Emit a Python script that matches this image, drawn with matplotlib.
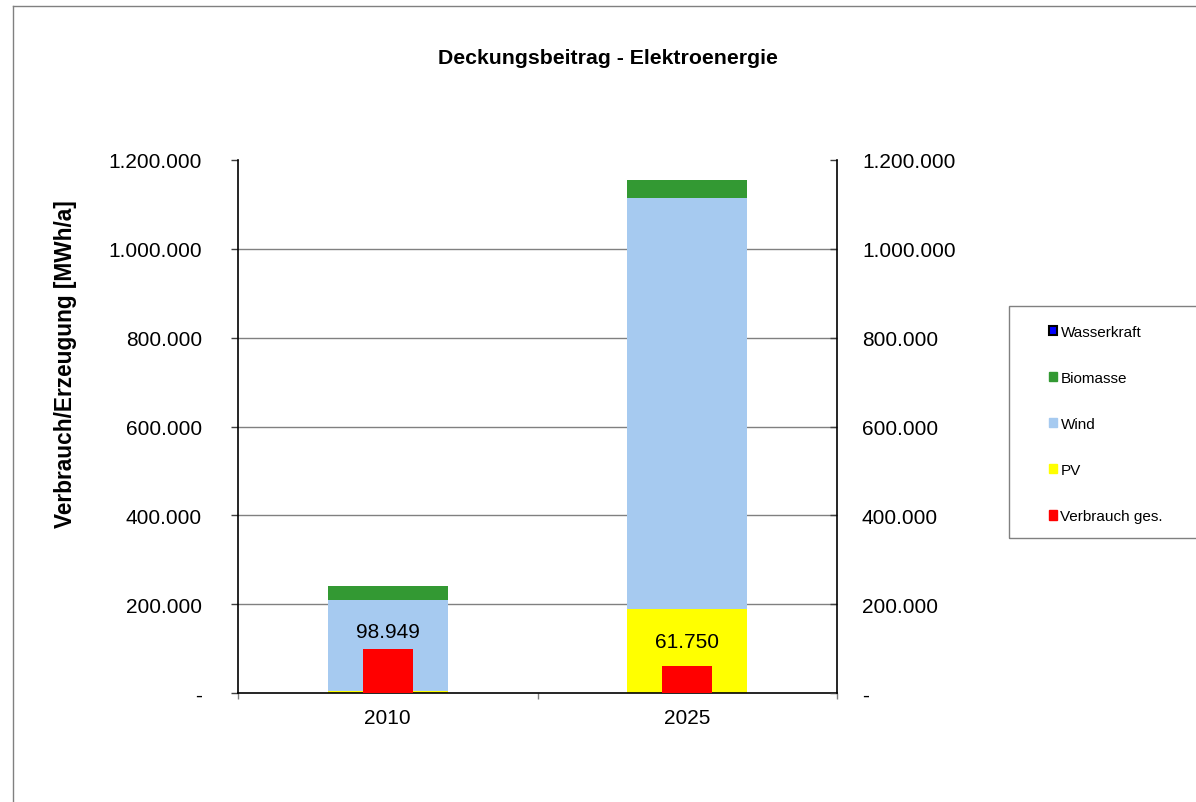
import matplotlib
matplotlib.use("Agg")
import matplotlib.pyplot as plt
from matplotlib.patches import Rectangle, Patch
from matplotlib.lines import Line2D
from matplotlib.ticker import FuncFormatter, FixedLocator

plt.rcParams['font.family'] = ['Liberation Sans', 'DejaVu Sans']

# ---- data ----
categories = ["2010", "2025"]
pv = [5000, 190000]
wind = [204000, 924000]
biomasse = [31000, 42000]
wasserkraft = [0, 0]
verbrauch = [98949, 61750]
verbrauch_labels = ["98.949", "61.750"]
yticks = [0, 200000, 400000, 600000, 800000, 1000000, 1200000]

# ---- styles ----
c_pv = "#FFFF00"
c_wind = "#A6CAF0"
c_bio = "#339933"
c_wasser = "#0000FF"
c_verb = "#FF0000"

W, H = 1196, 803
fig = plt.figure(figsize=(W / 100, H / 100), dpi=100)

ax = fig.add_axes([238 / W, 1 - 694 / H, 599 / W, 533 / H])
x = list(range(len(categories)))

ax.bar(x, pv, width=0.4, color=c_pv, zorder=2)
bottom2 = [a for a in pv]
ax.bar(x, wind, width=0.4, bottom=bottom2, color=c_wind, zorder=2)
bottom3 = [a + b for a, b in zip(pv, wind)]
ax.bar(x, biomasse, width=0.4, bottom=bottom3, color=c_bio, zorder=2)
bottom4 = [a + b + c for a, b, c in zip(pv, wind, biomasse)]
ax.bar(x, wasserkraft, width=0.4, bottom=bottom4, color=c_wasser,
       edgecolor="black", linewidth=0, zorder=2)
ax.bar(x, verbrauch, width=0.167, color=c_verb, zorder=3)

label_offsets = [8, 15]
for xi, v, lab, off in zip(x, verbrauch, verbrauch_labels, label_offsets):
    ax.annotate(lab, (xi, v), xytext=(0, off * 0.72), textcoords="offset points",
                ha="center", va="bottom", fontsize=15, color="black", zorder=4)

ax.set_xlim(-0.5, 1.5)
ax.set_ylim(0, 1200000)

def fmt(v, pos):
    if v == 0:
        return "-"
    return f"{int(round(v)):,}".replace(",", ".")

ax.yaxis.set_major_locator(FixedLocator(yticks))
ax.yaxis.set_major_formatter(FuncFormatter(fmt))
ax.tick_params(axis="y", direction="out", length=5, width=1, color="#404040",
               pad=21, labelsize=15)

ax.set_xticks(x)
ax.set_xticklabels(categories)
ax.tick_params(axis="x", which="major", length=0, pad=11, labelsize=15)
ax.set_xticks([-0.5, 0.5, 1.5], minor=True)
ax.tick_params(axis="x", which="minor", direction="out", length=4, width=1,
               color="#808080")

for g in yticks[1:-1]:
    ax.axhline(g, color="#808080", linewidth=1, zorder=1)

ax.spines["top"].set_visible(False)
ax.spines["left"].set_color("black")
ax.spines["bottom"].set_color("black")
ax.spines["right"].set_visible(False)
for s in ("left", "bottom"):
    ax.spines[s].set_linewidth(1.2)

ax2 = ax.twinx()
ax2.set_ylim(0, 1200000)
ax2.yaxis.set_major_locator(FixedLocator(yticks))
ax2.yaxis.set_major_formatter(FuncFormatter(fmt))
ax2.tick_params(axis="y", direction="in", length=5, width=1, color="#404040",
                pad=18, labelsize=15)
ax2.spines["top"].set_visible(False)
ax2.spines["left"].set_visible(False)
ax2.spines["bottom"].set_visible(False)
ax2.spines["right"].set_color("black")
ax2.spines["right"].set_linewidth(1.2)

# titles
fig.text(608 / W, 1 - 58 / H, "Deckungsbeitrag - Elektroenergie",
         ha="center", va="center", fontsize=15.3, fontweight="bold")
fig.text(66 / W, 1 - 364 / H, "Verbrauch/Erzeugung [MWh/a]", rotation=90,
         ha="center", va="center", fontsize=16.3, fontweight="bold")

# chart-area border (cropped at right / bottom)
fig.add_artist(Line2D([13 / W, 13 / W], [0, 1 - 7 / H], transform=fig.transFigure,
                      color="#808080", linewidth=1))
fig.add_artist(Line2D([13 / W, 1], [1 - 7 / H, 1 - 7 / H], transform=fig.transFigure,
                      color="#808080", linewidth=1))

# legend box
fig.add_artist(Rectangle((1009 / W, 1 - 539 / H), (W + 5 - 1009) / W, 232 / H,
                         transform=fig.transFigure, fill=False,
                         edgecolor="#808080", linewidth=1))
handles = [
    Patch(facecolor=c_wasser, edgecolor="black", linewidth=1.5, label="Wasserkraft"),
    Patch(facecolor=c_bio, edgecolor=c_bio, label="Biomasse"),
    Patch(facecolor=c_wind, edgecolor=c_wind, label="Wind"),
    Patch(facecolor=c_pv, edgecolor=c_pv, label="PV"),
    Patch(facecolor=c_verb, edgecolor=c_verb, label="Verbrauch ges."),
]
fig.legend(handles=handles, loc="upper left",
           bbox_to_anchor=(1049 / W, 1 - 326 / H), frameon=False,
           fontsize=11, handlelength=0.55, handleheight=0.55,
           handletextpad=0.2, labelspacing=2.1, borderpad=0, borderaxespad=0)

fig.savefig("out.png", dpi=100, facecolor="white")
